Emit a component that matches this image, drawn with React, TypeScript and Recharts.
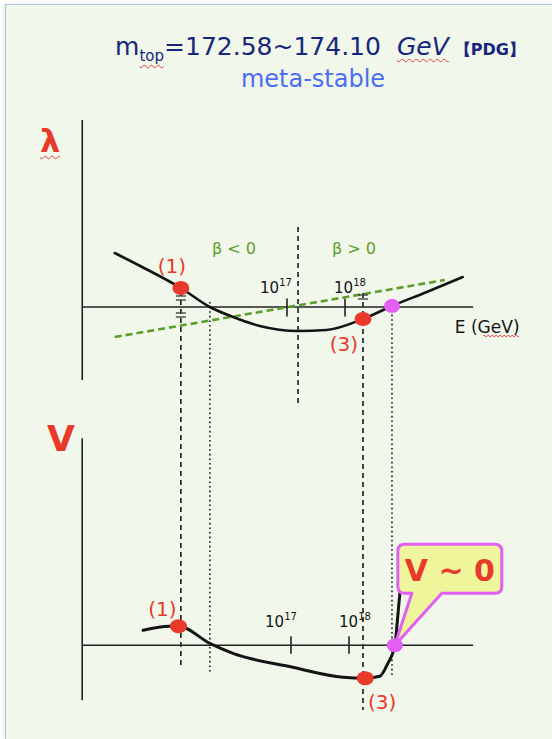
import {
  ComposedChart,
  Line,
  XAxis,
  YAxis,
  ReferenceLine,
  ReferenceDot,
} from "recharts";

const W = 552;
const H = 739;

// x: log10(E / GeV), 58px per decade. y: 10px per unit, zero on each panel's axis
const PX_PER_DEC = 58;
const upperDomain = [17 - 287 / PX_PER_DEC, 17 + (W - 287) / PX_PER_DEC];
const lowerDomain = [17 - 291 / PX_PER_DEC, 17 + (W - 291) / PX_PER_DEC];
const lamDomain = [-(H - 307) / 10, 307 / 10];
const potDomain = [-(H - 645.3) / 10, 645.3 / 10];

// running quartic coupling λ(E)
const lambdaX = [14.03, 14.47, 15.17, 15.67, 16.07, 16.53, 17.19, 17.68, 18.31, 18.81, 19.41, 20.03];
const lambdaY = [5.4, 4.1, 1.9, 0.0, -1.0, -1.9, -2.4, -2.3, -1.2, 0.1, 1.5, 3.0];

// beta function β_λ (straight, dashed green)
const betaX = [14.03, 19.72];
const betaY = [-3.0, 2.7];

// effective potential V(E)
const potX = [14.45, 14.91, 15.06, 15.6, 16.0, 17.03, 17.9, 18.28, 18.53, 18.67, 18.79, 18.85, 18.88];
const potY = [1.5, 1.9, 1.9, 0.2, -0.8, -2.2, -3.2, -3.3, -3.1, -1.8, 0.0, 3.5, 5.4];

// marked points: (1), (3) and the V ~ 0 point
const lamMarkX = [15.17, 18.31, 18.81];
const lamMarkY = [1.9, -1.2, 0.1];
const potMarkX = [15.06, 18.28, 18.79];
const potMarkY = [1.9, -3.3, 0.0];
const markLabels = ["(1)", "(3)"];

// guide lines through the marked scales (dashed) and λ = 0 crossings (dotted)
const criticalX = [15.17, 17.19, 18.31];
const criticalTop = [1.6, 8.0, 1.4];
const criticalBottom = [-35.8, -9.8, -40.3];
const zeroX = [15.67, 18.81];
const zeroTop = [0.5, -0.3];
const zeroBottom = [-36.5, -37.0];

const tickExps = [17, 18];

// axis extents
const upperE = [13.47, 20.21];
const lowerE = [13.4, 20.14];
const lamAxis = [18.7, -7.3];
const potAxis = [20.7, -5.5];

const RED = "#e8392b";
const MAGENTA = "#e15ff2";
const GREEN = "#5c9e2a";
const INK = "#141414";
const NAVY = "#17267c";
const FONT = "'DejaVu Sans', sans-serif";

const ellipse = (fill: string, rx: number, ry: number) => (p: any) => (
  <ellipse cx={p.cx} cy={p.cy} rx={rx} ry={ry} fill={fill} />
);

const textAt =
  (text: string, fill: string, size: number, dx: number, dy: number, weight = "normal") =>
  (p: any) => (
    <text
      x={p.cx + dx}
      y={p.cy + dy}
      textAnchor="middle"
      fill={fill}
      fontSize={size}
      fontWeight={weight}
      fontFamily={FONT}
    >
      {text}
    </text>
  );

const powerAt = (exp: number, dx: number, dy: number) => (p: any) => (
  <text x={p.cx + dx} y={p.cy + dy} textAnchor="middle" fill={INK} fontSize={15} fontFamily={FONT}>
    10
    <tspan dy={-7} fontSize={10}>
      {exp}
    </tspan>
  </text>
);

const equalMark = (p: any) => (
  <g stroke="#444" strokeWidth={1.4}>
    <line x1={p.cx - 5} x2={p.cx + 5} y1={p.cy - 2} y2={p.cy - 2} />
    <line x1={p.cx - 5} x2={p.cx + 5} y1={p.cy + 2} y2={p.cy + 2} />
  </g>
);

const wavy = (x0: number, x1: number, y: number) => {
  let d = `M${x0},${y}`;
  for (let x = x0; x < x1; x += 4) d += ` q1,-1.5 2,0 q1,1.5 2,0`;
  return <path d={d} fill="none" stroke="#e34040" strokeWidth={1} />;
};

const energyLabel = (p: any) => (
  <g>
    <text x={p.cx + 14} y={p.cy + 26} textAnchor="middle" fill={INK} fontSize={17} fontFamily={FONT}>
      E (GeV)
    </text>
    {wavy(p.cx + 10, p.cx + 45, p.cy + 29)}
  </g>
);

// speech bubble pointing at the V ~ 0 point
const bubble = (p: any) => {
  const { cx, cy } = p;
  const x0 = cx + 3;
  const x1 = cx + 107;
  const y0 = cy - 101;
  const y1 = cy - 52;
  const r = 7;
  const d = [
    `M${x0 + r},${y0}`,
    `H${x1 - r}`,
    `Q${x1},${y0} ${x1},${y0 + r}`,
    `V${y1 - r}`,
    `Q${x1},${y1} ${x1 - r},${y1}`,
    `H${cx + 47}`,
    `L${cx},${cy}`,
    `L${cx + 17},${y1}`,
    `H${x0 + r}`,
    `Q${x0},${y1} ${x0},${y1 - r}`,
    `V${y0 + r}`,
    `Q${x0},${y0} ${x0 + r},${y0}`,
    "Z",
  ].join(" ");
  return (
    <g>
      <path d={d} fill="#eef59b" stroke={MAGENTA} strokeWidth={3} strokeLinejoin="round" />
      <text
        x={(x0 + x1) / 2}
        y={y0 + 37}
        textAnchor="middle"
        fill={RED}
        fontSize={30}
        fontWeight="bold"
        fontFamily={FONT}
      >
        V ~ 0
      </text>
    </g>
  );
};

const pts = (xs: number[], ys: number[]) => xs.map((x, i) => ({ x, y: ys[i] }));

export default function App() {
  const lambdaData = pts(lambdaX, lambdaY);
  const betaData = pts(betaX, betaY);
  const potData = pts(potX, potY);

  const U = { xAxisId: "upper", yAxisId: "lam" } as const;
  const L = { xAxisId: "lower", yAxisId: "pot" } as const;
  const axisStyle = { stroke: "#222", strokeWidth: 1.6, ifOverflow: "visible" as const };
  const wave = { textDecoration: "underline wavy #e34040", textDecorationThickness: 1, textUnderlineOffset: 3 };

  return (
    <div
      style={{
        position: "absolute",
        left: 0,
        top: 0,
        width: W,
        height: H,
        overflow: "hidden",
        background: "#fff",
        fontFamily: FONT,
      }}
    >
      <div
        style={{
          position: "absolute",
          left: 5,
          top: 4,
          width: W,
          height: H - 5,
          background: "#f1f7ea",
          border: "1.5px solid #a9c8e6",
          boxShadow: "-2px 0 4px rgba(0,0,0,0.08)",
        }}
      />

      <div style={{ position: "absolute", left: 0, top: 0 }}>
        <ComposedChart width={W} height={H} margin={{ top: 0, right: 0, bottom: 0, left: 0 }}>
          <XAxis xAxisId="upper" dataKey="x" type="number" domain={upperDomain} allowDataOverflow hide />
          <XAxis xAxisId="lower" dataKey="x" type="number" domain={lowerDomain} allowDataOverflow hide />
          <YAxis yAxisId="lam" dataKey="y" type="number" domain={lamDomain} allowDataOverflow hide />
          <YAxis yAxisId="pot" dataKey="y" type="number" domain={potDomain} allowDataOverflow hide />

          {/* axes */}
          <ReferenceLine {...U} {...axisStyle} segment={[{ x: upperE[0], y: 0 }, { x: upperE[1], y: 0 }]} />
          <ReferenceLine {...U} {...axisStyle} segment={[{ x: upperE[0], y: lamAxis[0] }, { x: upperE[0], y: lamAxis[1] }]} />
          <ReferenceLine {...L} {...axisStyle} segment={[{ x: lowerE[0], y: 0 }, { x: lowerE[1], y: 0 }]} />
          <ReferenceLine {...L} {...axisStyle} segment={[{ x: lowerE[0], y: potAxis[0] }, { x: lowerE[0], y: potAxis[1] }]} />

          {tickExps.map((e) => (
            <ReferenceLine key={`ut${e}`} {...U} {...axisStyle} segment={[{ x: e, y: 0.85 }, { x: e, y: -0.95 }]} />
          ))}
          {tickExps.map((e) => (
            <ReferenceLine key={`lt${e}`} {...L} {...axisStyle} segment={[{ x: e, y: 0.9 }, { x: e, y: -0.85 }]} />
          ))}

          {/* guide lines */}
          {criticalX.map((x, i) => (
            <ReferenceLine
              key={`c${i}`}
              {...U}
              ifOverflow="visible"
              stroke="#1a1a1a"
              strokeWidth={1.6}
              strokeDasharray="5 4"
              segment={[{ x, y: criticalTop[i] }, { x, y: criticalBottom[i] }]}
            />
          ))}
          {zeroX.map((x, i) => (
            <ReferenceLine
              key={`z${i}`}
              {...U}
              ifOverflow="visible"
              stroke="#1a1a1a"
              strokeWidth={1.6}
              strokeDasharray="1.6 3"
              segment={[{ x, y: zeroTop[i] }, { x, y: zeroBottom[i] }]}
            />
          ))}

          {/* break marks on the guides */}
          <ReferenceDot {...U} x={criticalX[0]} y={0.9} shape={equalMark} ifOverflow="visible" />
          <ReferenceDot {...U} x={criticalX[0]} y={-0.8} shape={equalMark} ifOverflow="visible" />
          <ReferenceDot {...U} x={criticalX[2]} y={1.0} shape={equalMark} ifOverflow="visible" />

          <Line
            {...U}
            data={betaData}
            dataKey="y"
            type="linear"
            stroke={GREEN}
            strokeWidth={2.6}
            strokeDasharray="7 4"
            dot={false}
            isAnimationActive={false}
          />
          <Line
            {...U}
            data={lambdaData}
            dataKey="y"
            type="monotone"
            stroke={INK}
            strokeWidth={2.6}
            strokeLinecap="round"
            dot={false}
            isAnimationActive={false}
          />
          <Line
            {...L}
            data={potData}
            dataKey="y"
            type="monotone"
            stroke={INK}
            strokeWidth={3}
            strokeLinecap="round"
            dot={false}
            isAnimationActive={false}
          />

          {/* tick labels */}
          <ReferenceDot {...U} x={tickExps[0]} y={0} shape={powerAt(tickExps[0], -11, -14)} ifOverflow="visible" />
          <ReferenceDot {...U} x={tickExps[1]} y={0} shape={powerAt(tickExps[1], 5, -14)} ifOverflow="visible" />
          <ReferenceDot {...L} x={tickExps[0]} y={0} shape={powerAt(tickExps[0], -10, -18)} ifOverflow="visible" />
          <ReferenceDot {...L} x={tickExps[1]} y={0} shape={powerAt(tickExps[1], 6, -18)} ifOverflow="visible" />
          <ReferenceDot {...U} x={upperE[1]} y={0} shape={energyLabel} ifOverflow="visible" />

          <ReferenceDot {...U} x={criticalX[1]} y={0} shape={textAt("β < 0", GREEN, 16, -64, -53)} ifOverflow="visible" />
          <ReferenceDot {...U} x={criticalX[1]} y={0} shape={textAt("β > 0", GREEN, 16, 56, -53)} ifOverflow="visible" />

          {/* marked points */}
          <ReferenceDot {...U} x={lamMarkX[0]} y={lamMarkY[0]} shape={ellipse(RED, 8.5, 7)} ifOverflow="visible" />
          <ReferenceDot {...U} x={lamMarkX[1]} y={lamMarkY[1]} shape={ellipse(RED, 8.5, 7)} ifOverflow="visible" />
          <ReferenceDot {...U} x={lamMarkX[2]} y={lamMarkY[2]} shape={ellipse(MAGENTA, 8, 7)} ifOverflow="visible" />
          <ReferenceDot {...U} x={lamMarkX[0]} y={lamMarkY[0]} shape={textAt(markLabels[0], RED, 20, -9, -15)} ifOverflow="visible" />
          <ReferenceDot {...U} x={lamMarkX[1]} y={lamMarkY[1]} shape={textAt(markLabels[1], RED, 20, -19, 32)} ifOverflow="visible" />

          <ReferenceDot {...L} x={potMarkX[2]} y={potMarkY[2]} shape={bubble} ifOverflow="visible" />
          <ReferenceDot {...L} x={potMarkX[0]} y={potMarkY[0]} shape={ellipse(RED, 8.5, 7)} ifOverflow="visible" />
          <ReferenceDot {...L} x={potMarkX[1]} y={potMarkY[1]} shape={ellipse(RED, 8.5, 7)} ifOverflow="visible" />
          <ReferenceDot {...L} x={potMarkX[2]} y={potMarkY[2]} shape={ellipse(MAGENTA, 8, 7)} ifOverflow="visible" />
          <ReferenceDot {...L} x={potMarkX[0]} y={potMarkY[0]} shape={textAt(markLabels[0], RED, 20, -16, -10)} ifOverflow="visible" />
          <ReferenceDot {...L} x={potMarkX[1]} y={potMarkY[1]} shape={textAt(markLabels[1], RED, 20, 17, 31)} ifOverflow="visible" />
        </ComposedChart>
      </div>

      {/* heading */}
      <div
        style={{
          position: "absolute",
          left: 70,
          width: 500,
          top: 34,
          textAlign: "center",
          color: NAVY,
          fontSize: 25,
          lineHeight: 1,
          whiteSpace: "nowrap",
        }}
      >
        m
        <span style={{ fontSize: 15, position: "relative", top: 6, ...wave }}>top</span>
        =172.58~174.10
        <span style={{ fontStyle: "italic", marginLeft: 16, ...wave }}>GeV</span>
        <span style={{ fontSize: 16, marginLeft: 6, fontWeight: "bold" }}>【PDG】</span>
      </div>
      <div
        style={{
          position: "absolute",
          left: 63,
          width: 500,
          top: 67,
          textAlign: "center",
          color: "#4b6ef5",
          fontSize: 24,
          lineHeight: 1,
        }}
      >
        meta-stable
      </div>

      {/* panel quantities */}
      <div
        style={{
          position: "absolute",
          left: 40,
          top: 125,
          color: RED,
          fontSize: 32,
          fontWeight: "bold",
          lineHeight: 1,
          ...wave,
        }}
      >
        λ
      </div>
      <div
        style={{
          position: "absolute",
          left: 47,
          top: 421,
          color: RED,
          fontSize: 36,
          fontWeight: "bold",
          lineHeight: 1,
        }}
      >
        V
      </div>
    </div>
  );
}
